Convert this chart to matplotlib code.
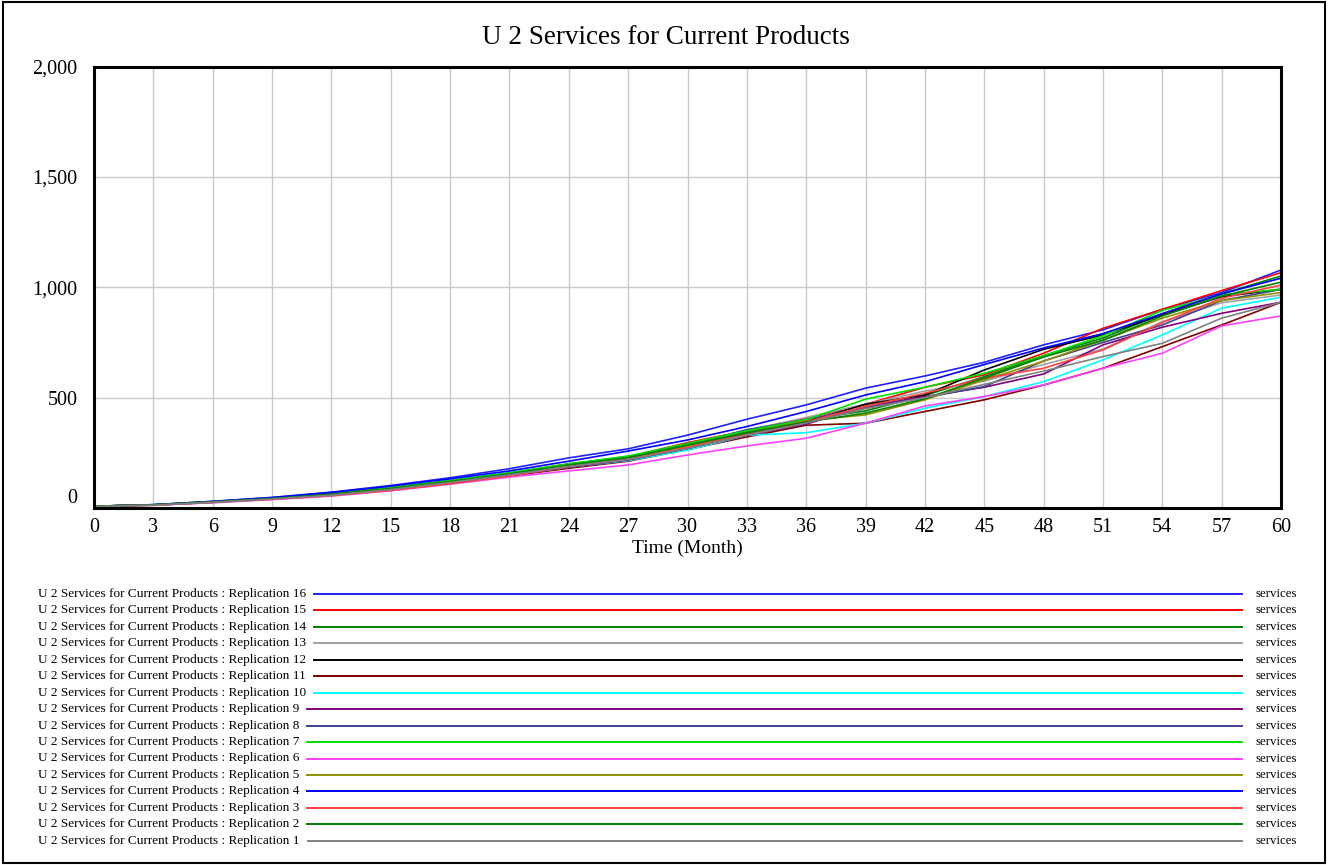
import numpy as np
import matplotlib
matplotlib.use("Agg")
import matplotlib.pyplot as plt
import matplotlib.transforms as mtransforms
from matplotlib.patches import Rectangle

plt.rcParams['font.family'] = ['Liberation Serif', 'DejaVu Serif']

title = "U 2 Services for Current Products"
months = list(range(0, 61, 3))
yticks = [0, 500, 1000, 1500, 2000]

# values read every 3 months, replication 1..16
rep1 = [7, 13, 26, 41, 58, 84, 116, 150, 188, 220, 270, 330, 385, 450, 500, 560, 620, 686, 746, 860, 932]
rep2 = [8, 14, 28, 43, 62, 88, 120, 155, 195, 228, 285, 340, 390, 430, 495, 588, 684, 760, 870, 960, 1023]
rep3 = [8, 13, 26, 40, 56, 80, 110, 145, 188, 222, 275, 335, 390, 460, 520, 588, 633, 716, 840, 950, 1010]
rep4 = [8, 15, 30, 47, 70, 99, 132, 168, 212, 258, 308, 369, 437, 512, 572, 650, 725, 790, 880, 970, 1041]
rep5 = [8, 14, 27, 42, 60, 86, 118, 152, 192, 225, 280, 340, 395, 422, 490, 580, 665, 760, 860, 940, 976]
rep6 = [7, 12, 24, 38, 54, 78, 108, 140, 168, 195, 240, 281, 316, 384, 462, 505, 557, 633, 701, 825, 870]
rep7 = [8, 15, 29, 46, 66, 93, 125, 160, 200, 235, 292, 350, 400, 493, 547, 610, 690, 780, 895, 965, 991]
rep8 = [8, 14, 28, 43, 63, 90, 122, 158, 200, 230, 285, 355, 400, 455, 500, 550, 666, 750, 829, 940, 990]
rep9 = [7, 13, 26, 41, 58, 84, 115, 148, 185, 218, 270, 330, 380, 460, 505, 547, 607, 739, 819, 882, 932]
rep10 = [7, 13, 26, 41, 58, 84, 115, 148, 185, 215, 262, 330, 341, 384, 452, 505, 572, 671, 784, 905, 955]
rep11 = [7, 13, 25, 40, 57, 82, 112, 145, 180, 212, 265, 322, 375, 384, 437, 490, 557, 633, 731, 829, 932]
rep12 = [8, 14, 27, 42, 60, 86, 118, 150, 190, 222, 280, 340, 390, 470, 512, 625, 719, 784, 875, 957, 991]
rep13 = [8, 14, 28, 43, 62, 88, 120, 155, 197, 235, 288, 352, 410, 470, 530, 575, 650, 720, 844, 930, 965]
rep14 = [8, 14, 28, 44, 64, 90, 123, 157, 198, 230, 290, 345, 400, 440, 510, 595, 690, 770, 880, 970, 1051]
rep15 = [8, 14, 27, 42, 62, 88, 120, 153, 195, 232, 296, 350, 405, 470, 547, 603, 701, 814, 900, 985, 1066]
rep16 = [8, 15, 30, 48, 72, 102, 137, 178, 227, 268, 330, 402, 467, 543, 598, 660, 739, 807, 900, 976, 1078]

reps = [rep1, rep2, rep3, rep4, rep5, rep6, rep7, rep8,
        rep9, rep10, rep11, rep12, rep13, rep14, rep15, rep16]
colors = ["#808080", "#008000", "#ff4040", "#0000ff", "#909000", "#ff40ff", "#00e000", "#404090",
          "#800080", "#00ffff", "#800000", "#000000", "#a0a0a0", "#008000", "#ff0000", "#2020ff"]

fig = plt.figure(figsize=(13.28, 8.65), dpi=100)
fig.patches.append(Rectangle((0.002, 0.002), 0.996, 0.996, transform=fig.transFigure,
                             fill=False, edgecolor="black", linewidth=1.5))

ax = fig.add_axes([94 / 1328, 1 - 508 / 865, (1281 - 94) / 1328, (508 - 66.5) / 865])
for i in range(15, -1, -1):
    ax.plot(months, reps[i], color=colors[i], linewidth=1.2)

ax.set_xlim(0, 60)
ax.set_ylim(0, 2000)
ax.set_xticks(months)
ax.set_yticks(yticks)
ax.set_yticklabels([f"{v:,}" for v in yticks])
ax.tick_params(length=0, labelsize=14.5)
ax.tick_params(axis="y", pad=12)
ax.tick_params(axis="x", pad=7)
ax.grid(True, color="#c8c8c8", linewidth=1.0)
ax.set_axisbelow(True)
for s in ax.spines.values():
    s.set_linewidth(2.2)
ax.set_xlabel("Time (Month)", fontsize=14, labelpad=2)
fig.text(666 / 1328, 1 - 38 / 865, title, ha="center", va="center", fontsize=19.5)

# zero label sits a bit above the axis
zero = ax.get_yticklabels()[0]
zero.set_transform(zero.get_transform() + mtransforms.ScaledTranslation(0, 12 / 100, fig.dpi_scale_trans))

# legend rows, replication 16 at the top
renderer = fig.canvas.get_renderer()
row0, step = 594, 16.45
for k, i in enumerate(range(15, -1, -1)):
    yy = 1 - (row0 + k * step) / 865
    t = fig.text(38 / 1328, yy, f"{title} : Replication {i + 1}", ha="left", va="center", fontsize=9.55)
    bb = t.get_window_extent(renderer)
    x0 = (bb.x1 + 8) / 1328
    fig.add_artist(plt.Line2D([x0, 1242 / 1328], [yy, yy], transform=fig.transFigure,
                              color=colors[i], linewidth=1.4))
    fig.text(1255 / 1328, yy, "services", ha="left", va="center", fontsize=9.3)

fig.savefig("out.png", dpi=100)
